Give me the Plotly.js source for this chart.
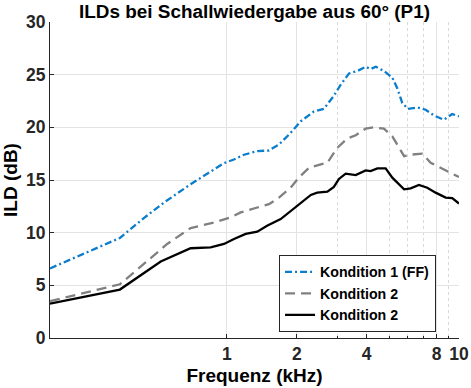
<!DOCTYPE html>
<html>
<head>
<meta charset="utf-8">
<script src="https://cdn.plot.ly/plotly-3.0.1.min.js"></script>
<style>html,body{margin:0;padding:0;background:#fff;}#chart{width:471px;height:388px;}</style>
</head>
<body>
<div id="chart"></div>
<script>
// Data (frequency in kHz, ILD in dB)
const freqK1 = [0.173,0.346,0.44,0.536,0.698,0.88,0.972,1.073,1.185,1.352,1.518,1.677,1.883,2.08,2.37,2.62,2.89,3.09,3.36,3.65,3.96,4.16,4.38,4.75,5.16,5.42,5.70,6.03,6.61,7.18,7.80,8.61,9.35,10];
const ildK1 = [6.6,9.5,11.4,12.86,14.6,16.0,16.6,16.95,17.4,17.74,17.8,18.37,19.47,20.57,21.5,21.76,23.0,24.03,25.12,25.35,25.75,25.53,25.75,25.35,24.72,23.71,22.3,21.76,21.89,21.67,21.13,20.72,21.26,21.04];

const freqK2a = [0.173,0.346,0.44,0.553,0.698,0.88,1.04,1.147,1.352,1.518,1.677,1.883,2.04,2.26,2.54,2.71,2.99,3.30,3.59,3.96,4.30,4.75,5.16,5.51,5.80,6.29,6.95,7.55,8.33,9.2,10];
const ildK2a = [3.5,5.1,7.05,8.93,10.44,10.97,11.45,11.92,12.39,12.7,13.33,14.27,15.22,16.16,16.48,16.64,18.05,18.93,19.25,19.87,20.0,19.87,19.15,18.05,17.26,17.42,17.5,16.64,16.16,15.69,15.28];

const freqK2b = [0.173,0.346,0.519,0.698,0.851,0.972,1.073,1.205,1.352,1.49,1.705,1.883,2.08,2.30,2.45,2.71,2.89,3.04,3.25,3.59,3.96,4.16,4.45,4.83,5.16,5.51,5.80,6.19,6.72,7.30,7.93,8.76,9.35,10];
const ildK2b = [3.27,4.6,7.26,8.52,8.6,8.93,9.4,9.88,10.09,10.66,11.29,12.08,12.86,13.58,13.8,13.9,14.35,15.1,15.6,15.47,15.91,15.85,16.1,16.1,15.22,14.59,14.12,14.21,14.53,14.27,13.8,13.33,13.27,12.76];

const seriesNames = ["Kondition 1 (FF)", "Kondition 2", "Kondition 2"];
const xTickVals = [1,2,4,8,10];
const xTickText = ["1","2","4","8","10"];
const xMinorVals = [3,5,6,7,9];
const yTickVals = [0,5,10,15,20,25,30];

const fontFam = "Liberation Sans, Arial, sans-serif";
const axisCol = "#262626";

const traces = [
  {x: freqK1, y: ildK1, name: seriesNames[0], mode: "lines", line: {color: "#0A7DCC", width: 2.3, dash: "7px,3px,2px,3px"}},
  {x: freqK2a, y: ildK2a, name: seriesNames[1], mode: "lines", line: {color: "#808080", width: 2.3, dash: "10px,6px"}},
  {x: freqK2b, y: ildK2b, name: seriesNames[2], mode: "lines", line: {color: "#000000", width: 2.3}}
];

const layout = {
  width: 471, height: 388,
  margin: {l: 50, r: 12, t: 22, b: 50},
  paper_bgcolor: "#fff", plot_bgcolor: "#fff",
  font: {family: fontFam, color: axisCol},
  title: {text: "ILDs bei Schallwiedergabe aus 60° (P1)", font: {family: fontFam, size: 18.9, weight: "bold", color: "#000"},
          xref: "paper", x: 0.5, xanchor: "center", yref: "container", y: 0.971, yanchor: "middle"},
  xaxis: {
    type: "log", range: [Math.log10(0.173), 1],
    tickmode: "array", tickvals: xTickVals, ticktext: xTickText,
    ticks: "inside", ticklen: 4, tickcolor: axisCol,
    showline: true, linecolor: axisCol, linewidth: 1,
    showgrid: true, gridcolor: "#e3e3e3", gridwidth: 1, zeroline: false,
    minor: {tickvals: xMinorVals, ticks: "inside", ticklen: 2, tickcolor: axisCol, showgrid: true, gridcolor: "#d9d9d9", griddash: "dot", gridwidth: 1},
    tickfont: {family: fontFam, size: 17.5, weight: "bold", color: axisCol},
    title: {text: "Frequenz (kHz)", font: {family: fontFam, size: 19, weight: "bold", color: "#000"}, standoff: 5}
  },
  yaxis: {
    range: [0, 30], tickmode: "array", tickvals: yTickVals,
    ticks: "inside", ticklen: 4, tickcolor: axisCol,
    showline: true, linecolor: axisCol, linewidth: 1,
    showgrid: true, gridcolor: "#e3e3e3", gridwidth: 1, zeroline: false,
    tickfont: {family: fontFam, size: 17.5, weight: "bold", color: axisCol},
    title: {text: "ILD (dB)", font: {family: fontFam, size: 19, weight: "bold", color: "#000"}, standoff: 5}
  },
  showlegend: true,
  legend: {x: 0.56, y: 0.262, xanchor: "left", yanchor: "top", bgcolor: "#fff", bordercolor: axisCol, borderwidth: 1,
           font: {family: fontFam, size: 14.2, weight: "bold", color: "#000"}, tracegroupgap: 0, itemwidth: 30}
};

Plotly.newPlot("chart", traces, layout, {displayModeBar: false, staticPlot: true});
</script>
</body>
</html>
